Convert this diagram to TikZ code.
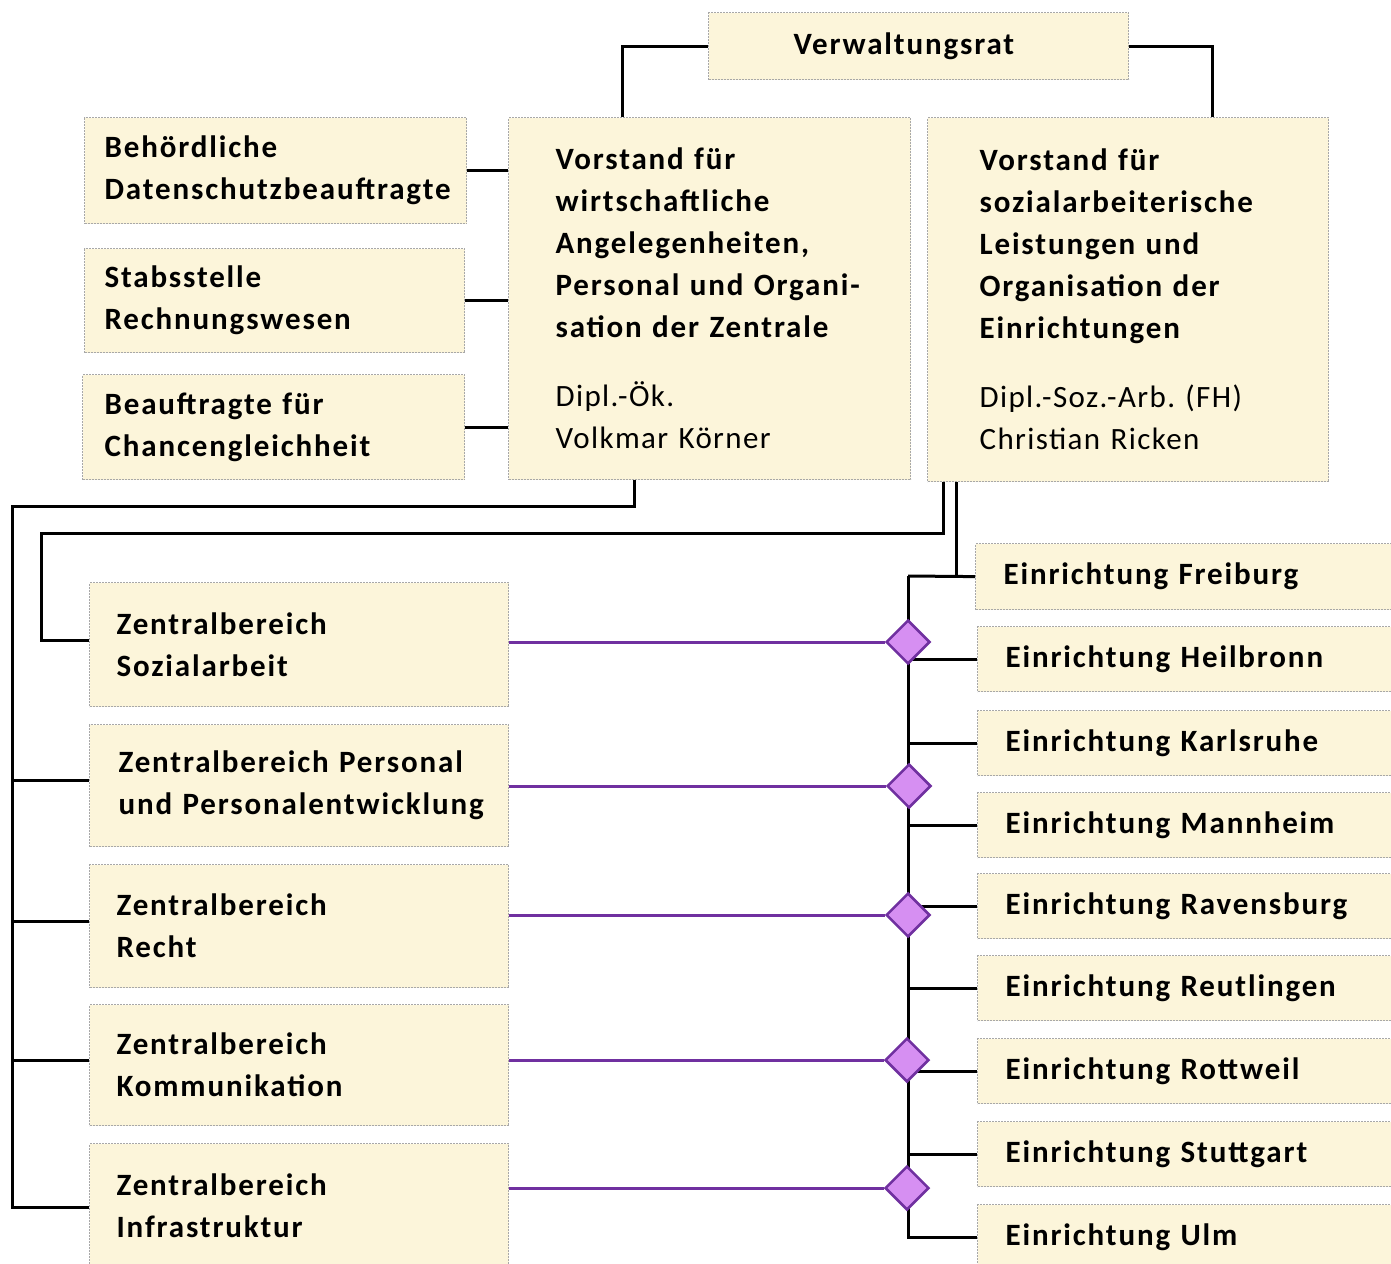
\documentclass[tikz,border=0pt]{standalone}
\usepackage{fontspec}
\setmainfont{Carlito}[WordSpace=0.8, LetterSpace=4.5, BoldFeatures={LetterSpace=6}]
\frenchspacing
\usetikzlibrary{shapes.geometric}
\definecolor{boxfill}{HTML}{FCF5DA}
\definecolor{boxline}{HTML}{A8A8A8}
\definecolor{purp}{HTML}{7030A0}
\definecolor{diafill}{HTML}{D68FF2}
\begin{document}
\begin{tikzpicture}[x=1pt,y=-1pt,
  box/.style={draw=boxline, line width=1.2pt, dash pattern=on 2pt off 1pt, fill=boxfill,
    anchor=north west, align=left, inner ysep=0pt,
    font=\fontsize{31}{42}\selectfont\bfseries},
  conn/.style={draw=black, line width=3pt},
  pline/.style={draw=purp, line width=3pt},
  dia/.style={diamond, draw=purp, line width=2.5pt, fill=diafill, inner sep=0pt,
    minimum width=44pt, minimum height=44pt}]
\useasboundingbox (0,0) rectangle (1391,1263);
\clip (0,0) rectangle (1391,1263);
\fill[white] (0,0) rectangle (1391,1263);

% top boxes
\node[box, minimum width=420pt, minimum height=67pt, text width=250pt, inner xsep=85pt] (vr) at (708,12) {Verwaltungsrat};
\node[box, minimum width=382pt, minimum height=106pt, text width=342pt, inner xsep=20pt] (ds) at (84,117) {Behördliche\\Datenschutzbeauftragte};
\node[box, minimum width=380pt, minimum height=104pt, text width=340pt, inner xsep=20pt] (sr) at (84,248) {Stabsstelle\\Rechnungswesen};
\node[box, minimum width=382pt, minimum height=105pt, text width=338pt, inner xsep=22pt] (cg) at (82,374) {Beauftragte für\\Chancengleichheit};
\node[box, minimum width=402pt, minimum height=362pt, text width=308pt, inner xsep=47pt] (vw) at (508,117)
  {Vorstand für\\wirtschaftliche\\Angelegenheiten,\\Personal und Organi-\\sation der Zentrale\\[27pt]\mdseries Dipl.-Ök.\\Volkmar Körner};
\node[box, minimum width=401pt, minimum height=364pt, text width=297pt, inner xsep=52pt] (vs) at (927,117)
  {Vorstand für\\sozialarbeiterische\\Leistungen und\\Organisation der\\Einrichtungen\\[27pt]\mdseries Dipl.-Soz.-Arb. (FH)\\Christian Ricken};

% Zentralbereiche
\node[box, minimum width=419pt, minimum height=124pt, text width=365pt, inner xsep=27pt] (zs) at (89,582) {Zentralbereich\\Sozialarbeit};
\node[box, minimum width=419pt, minimum height=122pt, text width=361pt, inner xsep=29pt] (zp) at (89,724) {Zentralbereich Personal\\und Personalentwicklung};
\node[box, minimum width=419pt, minimum height=123pt, text width=365pt, inner xsep=27pt] (zr) at (89,864) {Zentralbereich\\Recht};
\node[box, minimum width=419pt, minimum height=121pt, text width=365pt, inner xsep=27pt] (zk) at (89,1004) {Zentralbereich\\Kommunikation};
\node[box, minimum width=419pt, minimum height=124pt, text width=365pt, inner xsep=27pt] (zi) at (89,1143) {Zentralbereich\\Infrastruktur};

% Einrichtungen
\node[box, minimum width=430pt, minimum height=66pt, text width=374pt, inner xsep=28pt] (e1) at (975,543) {Einrichtung Freiburg};
\node[box, minimum width=430pt, minimum height=65pt, text width=374pt, inner xsep=26pt] (e2) at (977,626) {Einrichtung Heilbronn};
\node[box, minimum width=430pt, minimum height=65pt, text width=374pt, inner xsep=26pt] (e3) at (977,710) {Einrichtung Karlsruhe};
\node[box, minimum width=430pt, minimum height=65pt, text width=374pt, inner xsep=26pt] (e4) at (977,792) {Einrichtung Mannheim};
\node[box, minimum width=430pt, minimum height=65pt, text width=374pt, inner xsep=26pt] (e5) at (977,873) {Einrichtung Ravensburg};
\node[box, minimum width=430pt, minimum height=65pt, text width=374pt, inner xsep=26pt] (e6) at (977,955) {Einrichtung Reutlingen};
\node[box, minimum width=430pt, minimum height=65pt, text width=374pt, inner xsep=26pt] (e7) at (977,1038) {Einrichtung Rottweil};
\node[box, minimum width=430pt, minimum height=65pt, text width=374pt, inner xsep=26pt] (e8) at (977,1121) {Einrichtung Stuttgart};
\node[box, minimum width=430pt, minimum height=65pt, text width=374pt, inner xsep=26pt] (e9) at (977,1204) {Einrichtung Ulm};

% connectors
\draw[conn] (vr.west) -| ([xshift=114pt]vw.north west);
\draw[conn] (vr.east) -| ([xshift=285pt]vs.north west);
\draw[conn] (ds.east) -- (vw.west |- ds.east);
\draw[conn] (sr.east) -- (vw.west |- sr.east);
\draw[conn] (cg.east) -- (vw.west |- cg.east);

\coordinate (lt) at (12,506);
\draw[conn] ([xshift=126pt]vw.south west) |- (lt) |- ([yshift=-2pt]zi.west);
\draw[conn] ([yshift=5pt]zp.west -| lt) -- ([yshift=5pt]zp.west);
\draw[conn] ([yshift=5pt]zr.west -| lt) -- ([yshift=5pt]zr.west);
\draw[conn] ([yshift=4.5pt]zk.west -| lt) -- ([yshift=4.5pt]zk.west);

\coordinate (lt2) at (41,533);
\draw[conn] ([xshift=16pt]vs.south west) |- (lt2) |- ([yshift=4pt]zs.west);

\coordinate (rt) at (908,576);
\draw[conn] ([xshift=29pt]vs.south west) |- (e1.west);
\draw[conn] (rt) -- (e1.west);
\draw[conn] (rt) |- (e9.west);
\foreach \n in {e2,e3,e4,e5,e6,e7,e8} \draw[conn] (\n.west -| rt) -- (\n.west);

% diamonds and purple links
\node[dia] (d1) at (908,642) {};
\node[dia] (d2) at (909,786) {};
\node[dia] (d3) at (908,915) {};
\node[dia] (d4) at (907,1060) {};
\node[dia] (d5) at (907,1188) {};
\draw[pline] (zs.east |- d1) -- (d1.west);
\draw[pline] (zp.east |- d2) -- (d2.west);
\draw[pline] (zr.east |- d3) -- (d3.west);
\draw[pline] (zk.east |- d4) -- (d4.west);
\draw[pline] (zi.east |- d5) -- (d5.west);
\end{tikzpicture}
\end{document}
